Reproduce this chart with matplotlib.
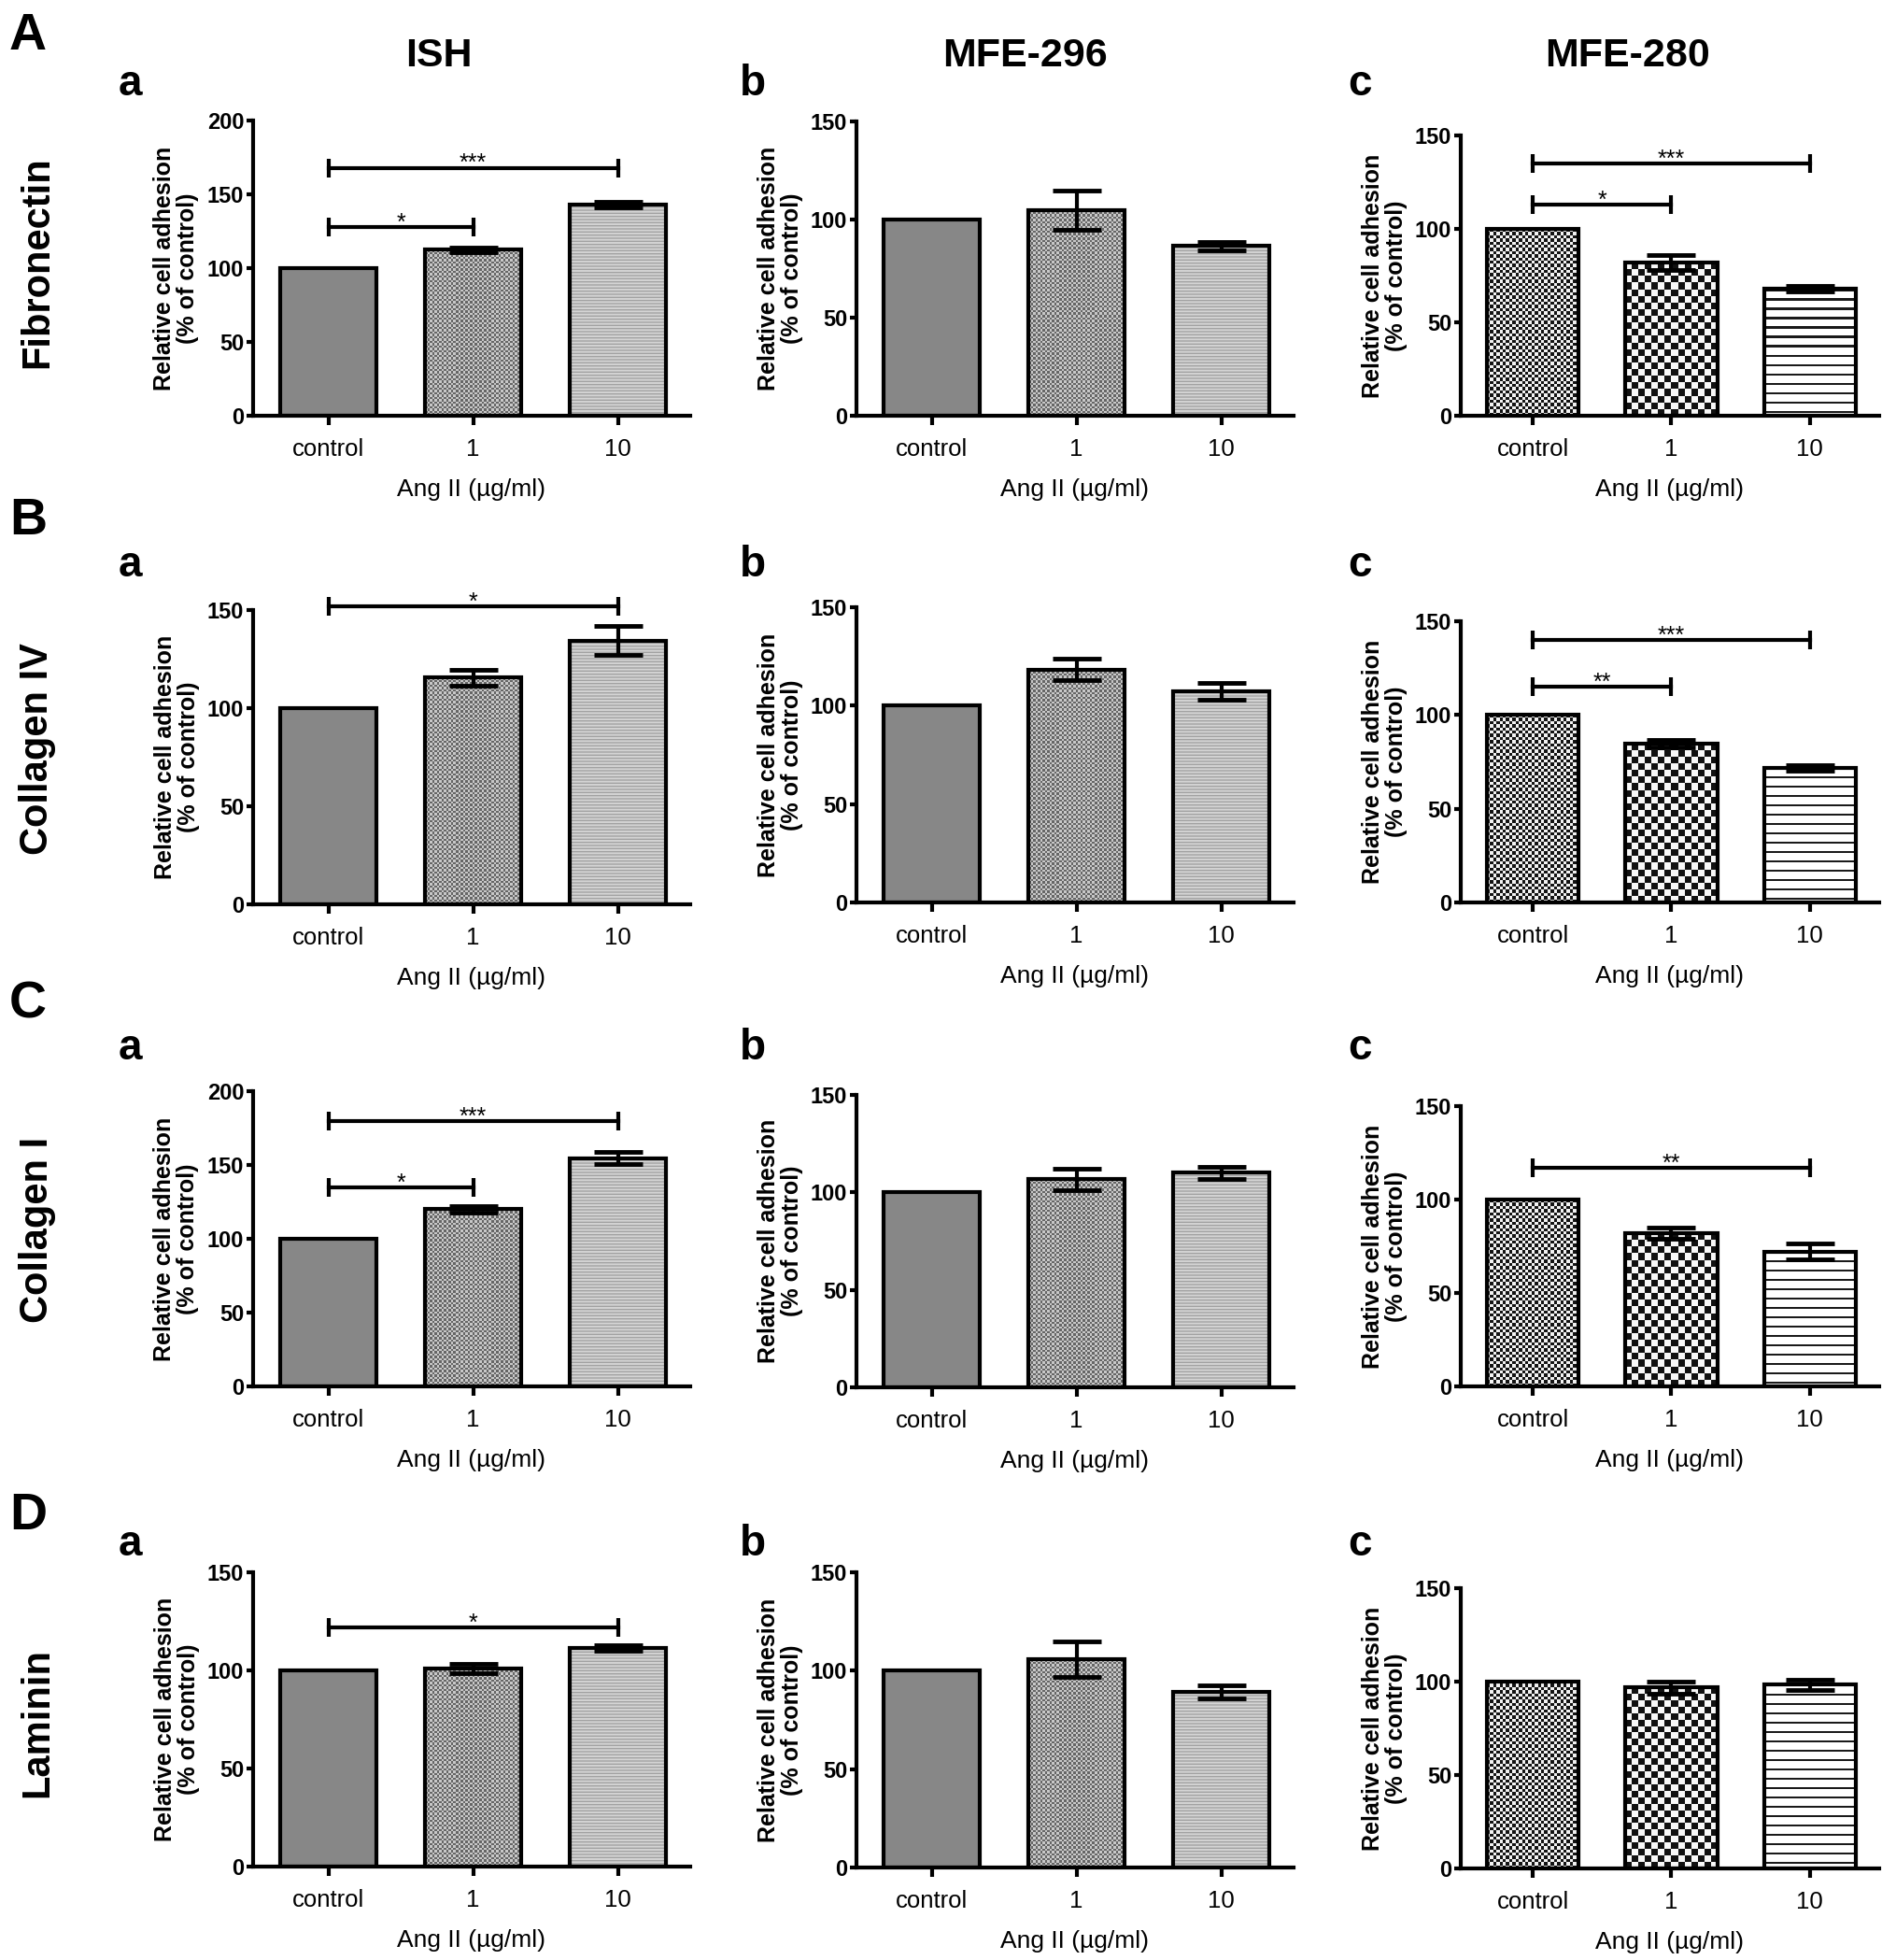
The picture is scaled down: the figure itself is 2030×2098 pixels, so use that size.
import numpy as np
import matplotlib
matplotlib.use('Agg')
import matplotlib.pyplot as plt
from matplotlib.colors import ListedColormap

plt.rcParams['font.family'] = ['Liberation Sans', 'DejaVu Sans']

# ---- data ----
groups = ['control', '1', '10']
cell_lines = ['ISH', 'MFE-296', 'MFE-280']
substrates = ['Fibronectin', 'Collagen IV', 'Collagen I', 'Laminin']
row_tags = ['A', 'B', 'C', 'D']
col_tags = ['a', 'b', 'c']

# one inner list per cell line: control, 1, 10 (% of control)
fibronectin_mean = [[100, 112.5, 143.0], [100, 105.0, 86.5], [100, 82.0, 67.8]]
fibronectin_sem = [[0, 1.5, 2.0], [0, 10.0, 2.0], [0, 4.0, 1.5]]
collagen4_mean = [[100, 115.5, 134.5], [100, 118.4, 107.1], [100, 84.5, 72.0]]
collagen4_sem = [[0, 4.1, 7.3], [0, 5.4, 4.3], [0, 2.0, 1.5]]
collagen1_mean = [[100, 120.0, 154.7], [100, 106.7, 110.0], [100, 82.0, 72.2]]
collagen1_sem = [[0, 2.0, 4.0], [0, 5.6, 3.0], [0, 3.2, 4.2]]
laminin_mean = [[100, 101.0, 111.4], [100, 105.8, 89.2], [100, 96.8, 98.3]]
laminin_sem = [[0, 2.4, 1.5], [0, 9.0, 3.2], [0, 3.2, 2.6]]

y_max = [[200, 150, 150], [150, 150, 150], [200, 150, 150], [150, 150, 150]]

# (row, column, compared group, bracket height, label)
significance = [
    (0, 0, 1, 128, '*'), (0, 0, 2, 168, '***'),
    (0, 2, 1, 113, '*'), (0, 2, 2, 135, '***'),
    (1, 0, 2, 152, '*'),
    (1, 2, 1, 115, '**'), (1, 2, 2, 140, '***'),
    (2, 0, 1, 135, '*'), (2, 0, 2, 180, '***'),
    (2, 2, 2, 117, '**'),
    (3, 0, 2, 122, '*'),
]

means = [fibronectin_mean, collagen4_mean, collagen1_mean, laminin_mean]
sems = [fibronectin_sem, collagen4_sem, collagen1_sem, laminin_sem]

# ---- layout in pixels (left, top, right, bottom) ----
W, H = 2031, 2098
rects = [
    [(271, 129, 739, 445), (917, 130, 1385, 445), (1564, 145, 2012, 445)],
    [(271, 653, 739, 968), (917, 650, 1385, 966), (1564, 665, 2012, 966)],
    [(271, 1168, 739, 1484), (917, 1172, 1385, 1485), (1564, 1184, 2012, 1484)],
    [(271, 1683, 739, 1998), (917, 1683, 1385, 1999), (1564, 1700, 2012, 2000)],
]

fig = plt.figure(figsize=(W / 100, H / 100), dpi=100)
BW = 0.665


def texture(ax, xc, h, kind, cell, dark, light):
    x0 = xc - BW / 2
    (px0, py0), (px1, py1) = ax.transData.transform([(x0, 0), (x0 + BW, h)])
    nx = max(1, int(round((px1 - px0) / cell)))
    ny = max(1, int(round((py1 - py0) / cell)))
    if kind == 'checker':
        arr = np.indices((ny, nx)).sum(0) % 2
    else:
        arr = (np.arange(ny) % 4 == 0).astype(int)[:, None]
    ax.imshow(arr, cmap=ListedColormap([light, dark]), vmin=0, vmax=1,
              extent=(x0, x0 + BW, 0, h), aspect='auto',
              interpolation='nearest', zorder=1.5)


for r in range(4):
    for c in range(3):
        l, t, rt, b = rects[r][c]
        ax = fig.add_axes([l / W, 1 - b / H, (rt - l) / W, (b - t) / H])
        ax.set_xlim(-0.52, 2.5)
        ax.set_ylim(0, y_max[r][c])
        x = np.arange(3)
        vals = means[r][c]
        errs = sems[r][c]

        for i in range(3):
            if c < 2:
                if i == 0:
                    ax.bar(x[i], vals[i], BW, color='#878787', linewidth=0, zorder=1)
                elif i == 1:
                    ax.bar(x[i], vals[i], BW, color='#9a9a9a', linewidth=0, zorder=1)
                    texture(ax, x[i], vals[i], 'checker', 2.5, '#666666', '#c8c8c8')
                else:
                    ax.bar(x[i], vals[i], BW, color='#d4d4d4', hatch='-----',
                           edgecolor='#a2a2a2', linewidth=0, zorder=1)
            else:
                ax.bar(x[i], vals[i], BW, color='white', linewidth=0, zorder=1)
                if i == 0:
                    texture(ax, x[i], vals[i], 'checker', 3.4, '#141414', '#f2f2f2')
                elif i == 1:
                    texture(ax, x[i], vals[i], 'checker', 7.0, '#111111', '#f8f8f8')
                else:
                    texture(ax, x[i], vals[i], 'stripes', 2.5, '#1a1a1a', '#ffffff')
            ax.bar(x[i], vals[i], BW, fill=False, edgecolor='black',
                   linewidth=3, zorder=2)
            if errs[i] > 0:
                ax.errorbar(x[i], vals[i], yerr=errs[i], fmt='none', ecolor='black',
                            elinewidth=3, capsize=19, capthick=3.5, zorder=4)

        ax.set_xlim(-0.52, 2.5)
        ax.set_ylim(0, y_max[r][c])
        ax.set_yticks(np.arange(0, y_max[r][c] + 1, 50))
        ax.set_xticks(x, groups)
        for side in ['top', 'right']:
            ax.spines[side].set_visible(False)
        for side in ['left', 'bottom']:
            ax.spines[side].set_linewidth(3)
        ax.tick_params(axis='both', width=3)
        ax.tick_params(axis='x', length=7, pad=10, labelsize=18.5)
        ax.tick_params(axis='y', length=5, pad=2, labelsize=17)
        for lbl in ax.get_yticklabels():
            lbl.set_fontweight('bold')
        ax.set_ylabel('Relative cell adhesion\n(% of control)', fontsize=18,
                      fontweight='bold', labelpad=6, linespacing=1.05)
        ax.set_xlabel('Ang II (µg/ml)', fontsize=19, labelpad=14)

        for (rr, cc, j, y, lab) in significance:
            if rr == r and cc == c:
                ax.plot([0, j], [y, y], color='black', lw=3, marker='|', ms=15, mew=3,
                        clip_on=False, zorder=5)
                ax.annotate(lab, (j / 2, y), xytext=(0, -2), textcoords='offset points',
                            ha='center', va='baseline', fontsize=18, annotation_clip=False)

# ---- figure text ----
for k, tag in enumerate(row_tags):
    fig.text(10 / W, 1 - [53, 572, 1089, 1637][k] / H, tag, fontsize=40,
             fontweight='bold', ha='left', va='baseline')
    fig.text(40 / W, 1 - [281, 802, 1316, 1844][k] / H, substrates[k], fontsize=30,
             fontweight='bold', rotation=90, ha='center', va='center')
    for c in range(3):
        fig.text([139, 806, 1456][c] / W, 1 - [102, 617, 1134, 1665][k] / H, col_tags[c],
                 fontsize=33, fontweight='bold', ha='center', va='baseline')

for c, name in enumerate(cell_lines):
    fig.text([470, 1097, 1743][c] / W, 1 - 71 / H, name, fontsize=31,
             fontweight='bold', ha='center', va='baseline')

fig.savefig('out.png', dpi=100, facecolor='white')
